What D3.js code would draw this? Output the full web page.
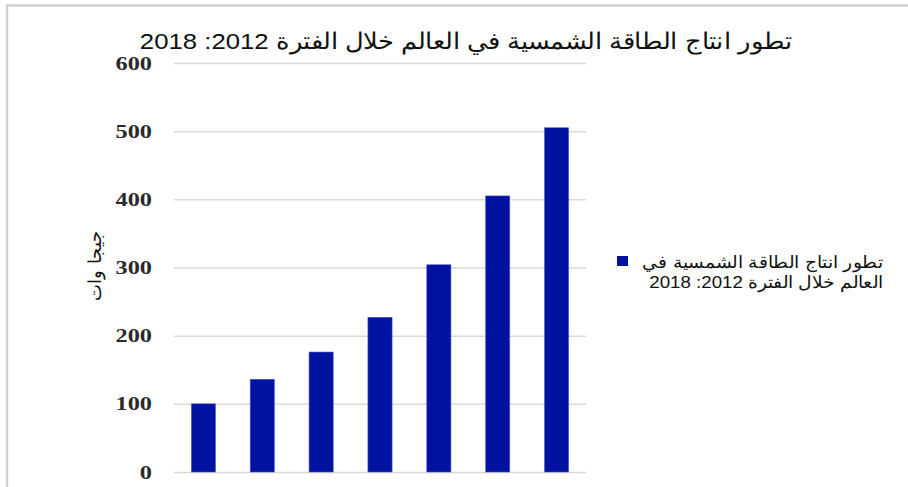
<!DOCTYPE html>
<html><head><meta charset="utf-8">
<script src="https://cdn.jsdelivr.net/npm/d3@7"></script>
<style>body{margin:0;background:#fff}svg{display:block}</style>
</head><body>
<script>
const categories = ["2012","2013","2014","2015","2016","2017","2018"];
const values = [100, 136, 176, 227, 304, 405, 505];
const yTicks = [0,100,200,300,400,500,600];
const title = "تطور انتاج الطاقة الشمسية في العالم خلال الفترة 2012: 2018";
const legendLines = ["تطور انتاج الطاقة الشمسية في", "العالم خلال الفترة 2012: 2018"];
const yTitle = "جيجا وات";

const W = 908, H = 487;
const svg = d3.select("body").append("svg").attr("width", W).attr("height", H);
svg.append("rect").attr("width", W).attr("height", H).attr("fill", "#fff");
svg.append("path").attr("d", `M7,${H} L7,5.5 L${W},5.5`).attr("fill","none").attr("stroke","#d0d0d0").attr("stroke-width",2.5);

const x = d3.scaleBand().domain(categories).range([174, 586]).paddingInner(0.59).paddingOuter(0.295);
const y = d3.scaleLinear().domain([0, 600]).range([472, 63]);

const gy = svg.append("g").attr("transform", "translate(174,0)")
  .call(d3.axisLeft(y).tickValues(yTicks).tickSize(-412).tickPadding(22));
gy.select(".domain").remove();
gy.selectAll(".tick line").attr("stroke", "#d9d9d9").attr("stroke-width", 1.5);
gy.selectAll(".tick text").attr("x", 0).attr("transform", "translate(-22,0) scale(1.28,1)")
  .attr("font-family", "Liberation Serif, serif").attr("font-size", 19)
  .attr("font-weight", "bold").attr("fill", "#2a2a2a");

svg.append("g").selectAll("rect").data(values).join("rect")
  .attr("x", (d,i) => x(categories[i])).attr("width", x.bandwidth())
  .attr("y", d => y(d)).attr("height", d => y(0) - y(d))
  .attr("fill", "#0012a0").attr("stroke", "#4d5ac8").attr("stroke-width", 0.6);

svg.append("text").attr("transform", "translate(466,49) scale(1.12,1)").attr("text-anchor", "middle")
  .attr("font-family", "Liberation Sans, Arial, sans-serif").attr("font-size", 23).attr("fill", "#111")
  .attr("direction", "rtl").text(title);

svg.append("text").attr("transform", "translate(101,266) rotate(-90)").attr("text-anchor", "middle")
  .attr("font-family", "Liberation Sans, Arial, sans-serif").attr("font-size", 18).attr("fill", "#111")
  .attr("direction", "rtl").text(yTitle);

svg.append("rect").attr("x", 617).attr("y", 256).attr("width", 11).attr("height", 10).attr("fill", "#0012a0");
svg.append("g").selectAll("text").data(legendLines).join("text")
  .attr("transform", (d,i) => `translate(883,${268 + i*20}) scale(1.1,1)`).attr("text-anchor", "start")
  .attr("direction", "rtl")
  .attr("font-family", "Liberation Sans, Arial, sans-serif").attr("font-size", 17).attr("fill", "#111")
  .text(d => d);
</script>
</body></html>
